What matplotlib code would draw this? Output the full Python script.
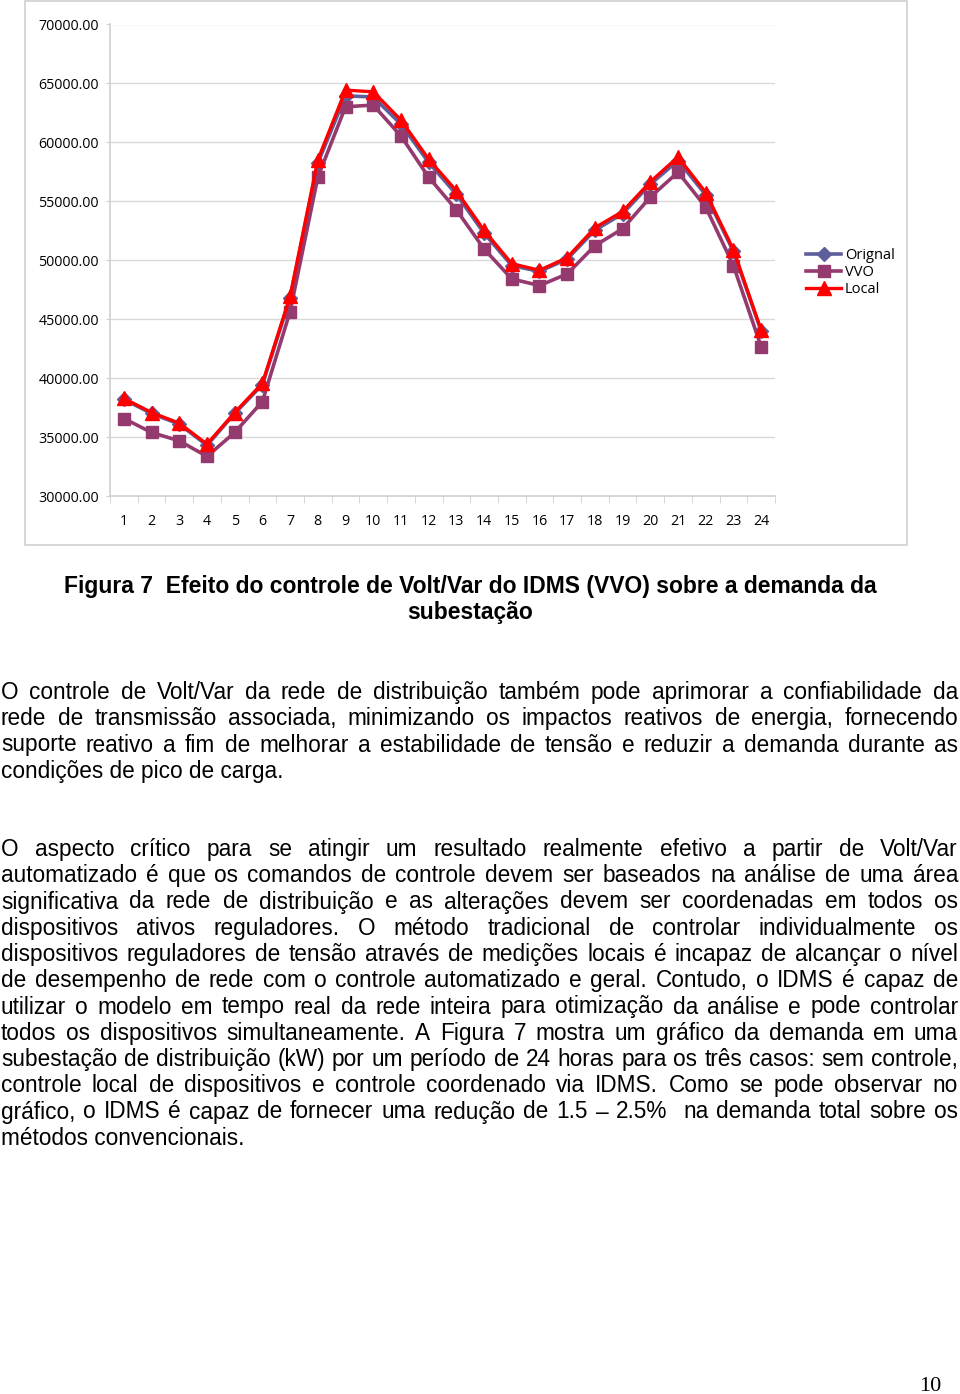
import matplotlib
matplotlib.use("Agg")
import matplotlib.pyplot as plt
from matplotlib.font_manager import FontProperties
from matplotlib.patches import Rectangle
from matplotlib.ticker import FixedLocator, FuncFormatter

# ---------------- data ----------------
hours = list(range(1, 25))
original = [38200, 37000, 36100, 34300, 37000, 39450, 46800, 58250, 63950, 63850,
            61550, 58300, 55600, 52300, 49550, 49050, 50100, 52550, 53950, 56450,
            58450, 55550, 50750, 44000]
vvo = [36574, 35390, 34679, 33360, 35390, 38013, 45652, 57048, 63020, 63164,
       60542, 57048, 54281, 50956, 48418, 47852, 48841, 51236, 52674, 55356,
       57471, 54510, 49544, 42666]
local = [38275, 37082, 36177, 34400, 37082, 39561, 46946, 58511, 64433, 64289,
         61895, 58570, 55889, 52530, 49713, 49146, 50220, 52758, 54137, 56650,
         58765, 55745, 50897, 44070]
series_names = ["Orignal", "VVO", "Local"]
y_ticks = [30000, 35000, 40000, 45000, 50000, 55000, 60000, 65000, 70000]

caption = ["Figura 7  Efeito do controle de Volt/Var do IDMS (VVO) sobre a demanda da",
           "subestação"]
para1 = [
    "O controle de Volt/Var da rede de distribuição também pode aprimorar a confiabilidade da",
    "rede de transmissão associada, minimizando os impactos reativos de energia, fornecendo",
    "suporte reativo a fim de melhorar a estabilidade de tensão e reduzir a demanda durante as",
    "condições de pico de carga.",
]
para2 = [
    "O aspecto crítico para se atingir um resultado realmente efetivo a partir de Volt/Var",
    "automatizado é que os comandos de controle devem ser baseados na análise de uma área",
    "significativa da rede de distribuição e as alterações devem ser coordenadas em todos os",
    "dispositivos ativos reguladores. O método tradicional de controlar individualmente os",
    "dispositivos reguladores de tensão através de medições locais é incapaz de alcançar o nível",
    "de desempenho de rede com o controle automatizado e geral. Contudo, o IDMS é capaz de",
    "utilizar o modelo em tempo real da rede inteira para otimização da análise e pode controlar",
    "todos os dispositivos simultaneamente. A Figura 7 mostra um gráfico da demanda em uma",
    "subestação de distribuição (kW) por um período de 24 horas para os três casos: sem controle,",
    "controle local de dispositivos e controle coordenado via IDMS. Como se pode observar no",
    "gráfico, o IDMS é capaz de fornecer uma redução de 1.5 – 2.5%  na demanda total sobre os",
    "métodos convencionais.",
]
page_number = "10"

# ---------------- figure ----------------
W, H, DPI = 960, 1394, 100
fig = plt.figure(figsize=(W / DPI, H / DPI), dpi=DPI)
fig.patch.set_facecolor("white")

# overlay axes in pixel coordinates for the page elements
page = fig.add_axes([0, 0, 1, 1], zorder=0)
page.set_xlim(0, W)
page.set_ylim(H, 0)
page.axis("off")

# chart frame
page.add_patch(Rectangle((25, 1), 882, 544, fill=False, edgecolor="#cfcfcf", lw=1.2))

# chart axes
ax_l, ax_r, ax_t, ax_b = 110, 775, 24.5, 496
ax = fig.add_axes([ax_l / W, 1 - ax_b / H, (ax_r - ax_l) / W, (ax_b - ax_t) / H], zorder=2)
ax.set_facecolor("none")

chart_font = "Open Sans"
ax.plot(hours, original, color="#5D5F9C", lw=2.6, marker="D", ms=7.5, label=series_names[0], zorder=3)
ax.plot(hours, vvo, color="#953A6E", lw=2.6, marker="s", ms=9, label=series_names[1], zorder=4)
ax.plot(hours, local, color="#FF0000", lw=2.4, marker="^", ms=10.5, label=series_names[2], zorder=5)

ax.set_xlim(0.5, 24.5)
ax.set_ylim(30000, 70000)
ax.yaxis.set_major_locator(FixedLocator(y_ticks))
ax.yaxis.set_major_formatter(FuncFormatter(lambda v, p: f"{v:.2f}"))
ax.xaxis.set_major_locator(FixedLocator(hours))
ax.xaxis.set_minor_locator(FixedLocator([h + 0.5 for h in [0] + hours]))
ax.grid(axis="y", color="#d9d9d9", lw=1)
ax.set_axisbelow(True)
for s in ["top", "right"]:
    ax.spines[s].set_visible(False)
for s in ["left", "bottom"]:
    ax.spines[s].set_color("#d0d0d0")
    ax.spines[s].set_linewidth(1.2)
ax.tick_params(axis="y", length=3, color="#d0d0d0", pad=5, labelsize=10.3, labelcolor="black")
ax.tick_params(axis="x", which="major", length=0, pad=13, labelsize=10.3, labelcolor="black")
ax.tick_params(axis="x", which="minor", length=5, color="#d0d0d0")
for lab in ax.get_xticklabels() + ax.get_yticklabels():
    lab.set_fontfamily(chart_font)

leg = fig.legend(loc="upper left", bbox_to_anchor=(806 / W, 1 - 248 / H), frameon=False,
                 borderaxespad=0, borderpad=0, handlelength=2.4, handletextpad=0.25,
                 labelspacing=0.15, prop=FontProperties(family=chart_font, size=10.5))

# ---------------- text ----------------
body_fp = FontProperties(family="Liberation Sans", size=16.3)
bold_fp = FontProperties(family="Liberation Sans", size=16.5, weight="bold")
num_fp = FontProperties(family="Liberation Serif", size=16)

renderer = fig.canvas.get_renderer()

def text_width_px(s, fp):
    if s == "":
        return 0.0
    w, h, d = renderer.get_text_width_height_descent(s, fp, ismath=False)
    return w

for i, line in enumerate(caption):
    page.text(470, 593 + i * 26.5, line, fontproperties=bold_fp, ha="center", va="baseline")

LEFT, RIGHT = 1, 958

def draw_paragraph(lines, y0, step=26.25):
    for i, line in enumerate(lines):
        y = y0 + i * step
        if i == len(lines) - 1:
            page.text(LEFT, y, line, fontproperties=body_fp, ha="left", va="baseline")
            continue
        words = line.split(" ")
        widths = [text_width_px(w_, body_fp) for w_ in words]
        gap = (RIGHT - LEFT - sum(widths)) / (len(words) - 1)
        x = LEFT
        for w_, wd in zip(words, widths):
            if w_:
                page.text(x, y, w_, fontproperties=body_fp, ha="left", va="baseline")
            x += wd + gap

draw_paragraph(para1, 699)
draw_paragraph(para2, 856)

page.text(930, 1391, page_number, fontproperties=num_fp, ha="center", va="baseline")

fig.savefig("out.png", dpi=DPI, facecolor="white")
